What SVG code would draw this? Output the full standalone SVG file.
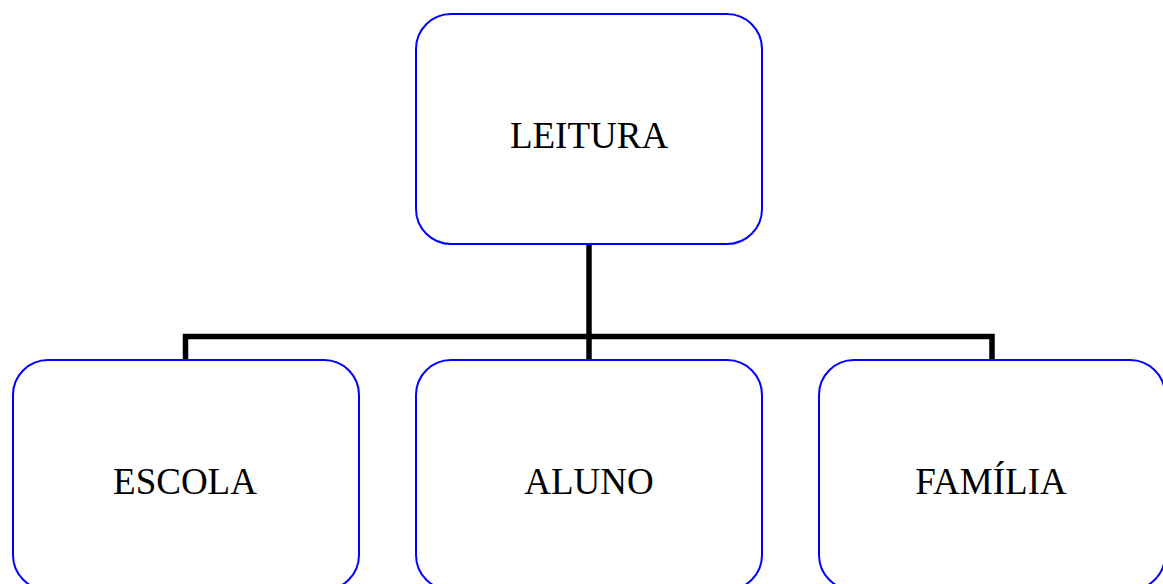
<svg xmlns="http://www.w3.org/2000/svg" width="1163" height="584" viewBox="0 0 1163 584">
<style>
.box{fill:#fff;stroke:#0000ff;stroke-width:2}
.lbl{font-family:"Liberation Serif","Times New Roman",serif;font-size:37px;fill:#000;text-anchor:middle}
.con{fill:none;stroke:#000;stroke-width:5.5;stroke-linejoin:miter;stroke-linecap:butt}
</style>
<rect width="1163" height="584" fill="#fff"/>
<g id="connectors">
<path class="con" d="M589,244 V360"/>
<path class="con" d="M185.5,360 V336.5 H992 V360"/>
</g>
<g id="leitura">
<rect class="box" x="416" y="14" width="346" height="230" rx="35" ry="35"/>
<text class="lbl" x="589" y="148">LEITURA</text>
</g>
<g id="escola">
<rect class="box" x="13" y="360" width="346" height="230" rx="35" ry="35"/>
<text class="lbl" x="185" y="494">ESCOLA</text>
</g>
<g id="aluno">
<rect class="box" x="416" y="360" width="346" height="230" rx="35" ry="35"/>
<text class="lbl" x="589" y="494">ALUNO</text>
</g>
<g id="familia">
<rect class="box" x="819" y="360" width="346" height="230" rx="35" ry="35"/>
<text class="lbl" x="991" y="494">FAMÍLIA</text>
</g>
</svg>
